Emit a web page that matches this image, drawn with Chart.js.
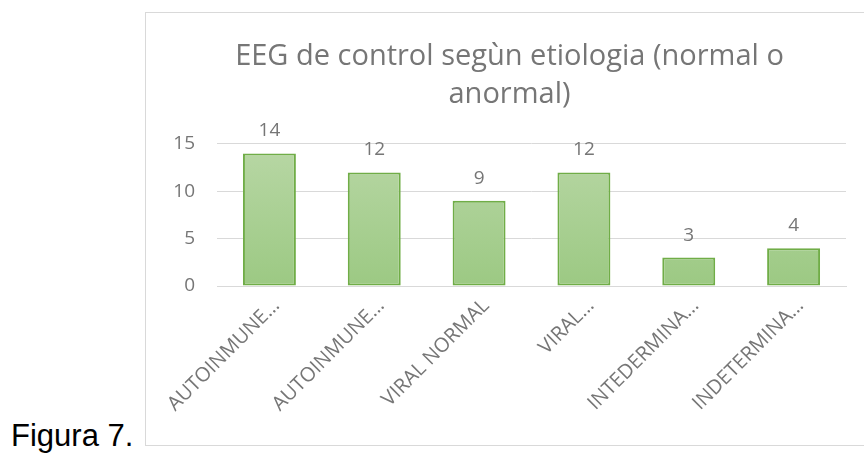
<!DOCTYPE html>
<html>
<head>
<meta charset="utf-8">
<script src="https://cdn.jsdelivr.net/npm/chart.js@4.4.0/dist/chart.umd.min.js"></script>
<style>
  html, body { margin: 0; padding: 0; background: #fff; overflow: hidden; }
  body { width: 864px; height: 453px; position: relative; }
  #box {
    position: absolute; left: 145px; top: 12px; width: 728px; height: 432px;
    border: 1px solid #d9d9d9;
  }
  #chartWrap { position: absolute; left: 0; top: 0; width: 728px; height: 432px; }
  #figura {
    position: absolute; left: 11px; top: 421px; line-height: 30px;
    font-family: "Liberation Sans", Arial, sans-serif; font-size: 31px; color: #000;
  }
</style>
</head>
<body>
<div id="figura">Figura 7.</div>
<div id="box"><div id="chartWrap"><canvas id="chart"></canvas></div></div>
<script>
const categories = ["AUTOINMUNE…", "AUTOINMUNE…", "VIRAL NORMAL", "VIRAL…", "INTEDERMINA…", "INDETERMINA…"];
const values = [14, 12, 9, 12, 3, 4];
const titleLines = ["EEG de control segùn etiologia (normal o", "anormal)"];
const yTicks = [0, 5, 10, 15];

const textGrey = "#767676";
const fontFamily = "'Open Sans', sans-serif";

// Draw the value labels above each bar
const valueLabels = {
  id: "valueLabels",
  afterDatasetsDraw(chart) {
    const ctx = chart.ctx;
    const meta = chart.getDatasetMeta(0);
    ctx.save();
    ctx.fillStyle = textGrey;
    ctx.font = "19px " + fontFamily;
    ctx.textAlign = "center";
    ctx.textBaseline = "alphabetic";
    meta.data.forEach((bar, i) => {
      ctx.fillText(String(values[i]), bar.x, bar.y - 17);
    });
    ctx.restore();
  },
};

function barGradient(context) {
  const area = context.chart.chartArea;
  if (!area) return "#a9cf93";
  const g = context.chart.ctx.createLinearGradient(0, area.top, 0, area.bottom);
  g.addColorStop(0, "#b8d7a5");
  g.addColorStop(1, "#9cc983");
  return g;
}

new Chart(document.getElementById("chart").getContext("2d"), {
  type: "bar",
  data: {
    labels: categories,
    datasets: [
      {
        data: values,
        backgroundColor: barGradient,
        borderColor: "#70ad47",
        borderWidth: 2,
        borderSkipped: false,
        categoryPercentage: 1,
        barPercentage: 0.505,
      },
    ],
  },
  options: {
    responsive: true,
    maintainAspectRatio: false,
    animation: false,
    layout: { padding: { left: 27, right: 28, top: 0, bottom: 0 } },
    plugins: {
      legend: { display: false },
      tooltip: { enabled: false },
      title: {
        display: true,
        text: titleLines,
        color: textGrey,
        font: { family: fontFamily, size: 29, weight: "normal", lineHeight: 1.31 },
        padding: { top: 25, bottom: 30 },
      },
    },
    scales: {
      x: {
        grid: { display: false },
        border: { display: true, color: "#d9d9d9", width: 1 },
        ticks: {
          color: textGrey,
          font: { family: fontFamily, size: 20 },
          maxRotation: 45,
          minRotation: 45,
          autoSkip: false,
          padding: 0,
          labelOffset: 7,
        },
        afterFit(scale) { scale.height = 159; },
      },
      y: {
        min: 0,
        max: 15,
        afterBuildTicks(scale) { scale.ticks = yTicks.map((v) => ({ value: v })); },
        grid: { color: "#d9d9d9", lineWidth: 1, drawTicks: false },
        border: { display: false },
        ticks: {
          color: textGrey,
          font: { family: fontFamily, size: 19 },
          padding: 22,
        },
        afterFit(scale) { scale.width = 44; },
      },
    },
  },
  plugins: [valueLabels],
});
</script>
</body>
</html>
